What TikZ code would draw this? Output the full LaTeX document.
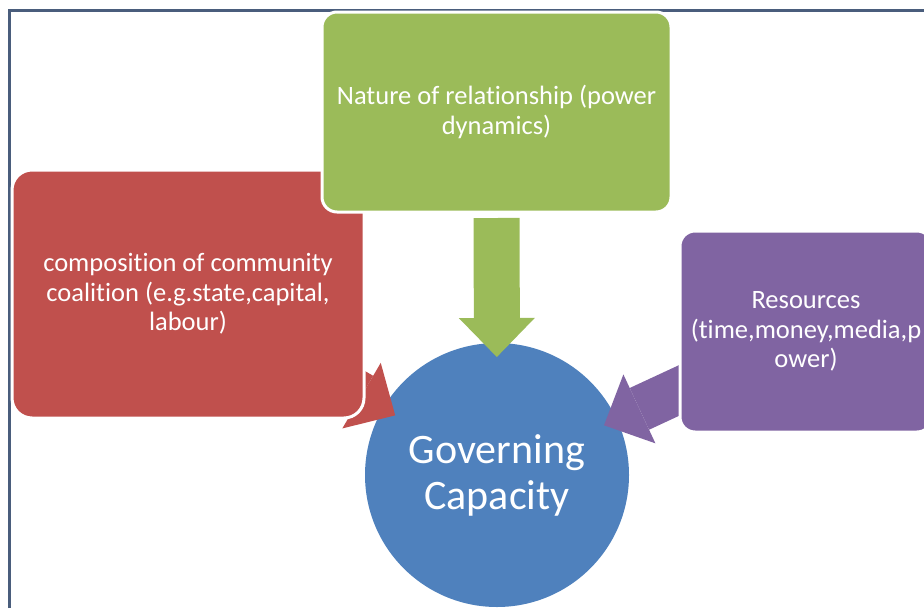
\documentclass[tikz,border=0pt]{standalone}
\usepackage{fontspec}
\setmainfont{Carlito}[Ligatures=NoCommon]
\usetikzlibrary{arrows.meta}

\definecolor{framec}{RGB}{74,93,124}
\definecolor{leafgreen}{RGB}{155,187,89}
\definecolor{brickred}{RGB}{192,80,77}
\definecolor{plum}{RGB}{128,100,162}
\definecolor{steelblue}{RGB}{79,129,189}

\pgfdeclarelayer{base}
\pgfdeclarelayer{links}
\pgfsetlayers{base,links,main}

\tikzset{
  box/.style={rectangle, draw=white, line width=3pt, text=white, align=center,
    inner sep=0pt, font=\fontsize{26.5}{29.5}\selectfont},
  flow/.style={line width=46pt, -{Triangle[length=39pt,width=76pt,line width=0pt]},
    shorten <=106pt, shorten >=118pt},
}

\begin{document}
\begin{tikzpicture}[x=1pt, y=-1pt]
\useasboundingbox (0,0) rectangle (924,608);

% frame
\draw [framec, line width=3pt] (9.5,608) -- (9.5,10.5) -- (924,10.5);

\begin{pgfonlayer}{base}
\node [circle, fill=steelblue, minimum size=264pt, inner sep=0pt, text=white, align=center,
  font=\fontsize{42}{46}\selectfont] (cap) at (497,475) {Governing\\Capacity};
\end{pgfonlayer}

\node [box, fill=brickred, rounded corners=20pt, minimum width=352pt, minimum height=248pt]
  (comp) at (188,294) {composition of community\\coalition (e.g.state,capital,\\labour)};
\node [box, fill=leafgreen, rounded corners=15pt, minimum width=349pt, minimum height=200pt]
  (rel) at (496.5,112) {Nature of relationship (power\\dynamics)};
\node [box, fill=plum, rounded corners=15pt, minimum width=252pt, minimum height=201pt]
  (res) at (806,331.5) {Resources\\(time,money,media,p\\ower)};

\begin{pgfonlayer}{links}
\draw [flow, leafgreen] (rel.center) -- (cap.center);
\draw [flow, brickred] (comp.center) -- (cap.center);
\draw [flow, plum] (res.center) -- (cap.center);
\end{pgfonlayer}

\end{tikzpicture}
\end{document}
